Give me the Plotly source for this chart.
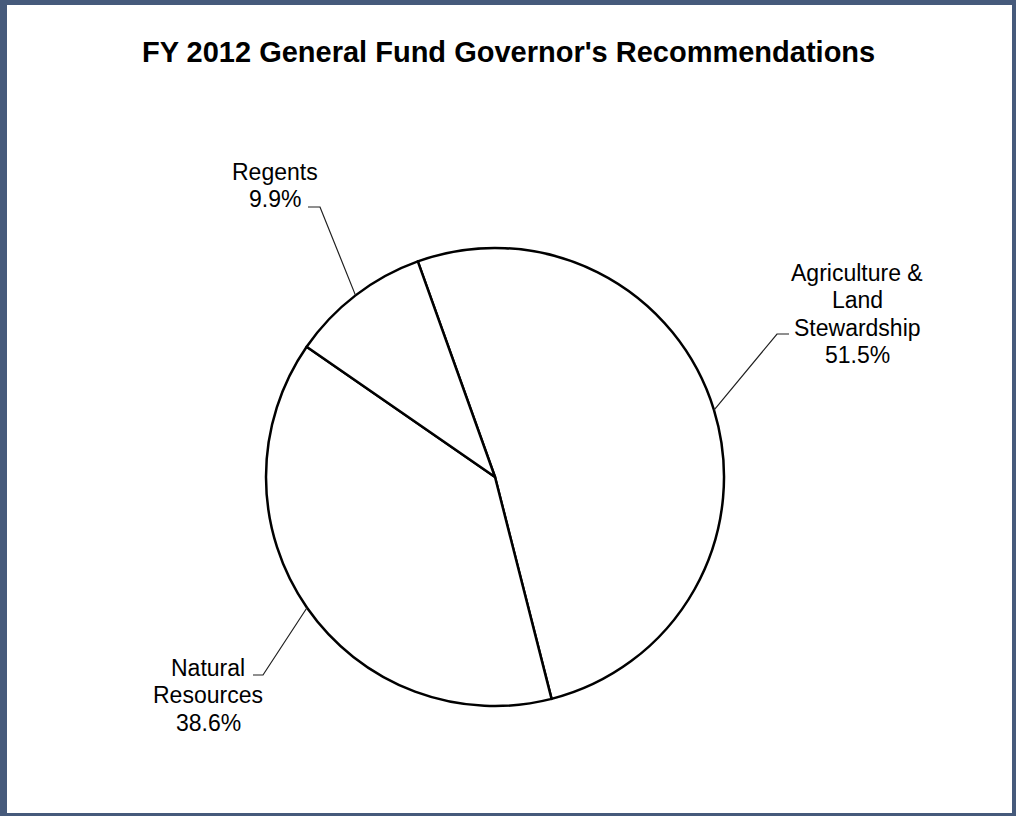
import math
import plotly.graph_objects as go

# Budget shares, percent of the FY 2012 general fund recommendation
categories = ["Agriculture & Land Stewardship", "Natural Resources", "Regents"]
label_lines = [["Agriculture &", "Land", "Stewardship"], ["Natural", "Resources"], ["Regents"]]
shares = [51.5, 38.6, 9.9]

W, H = 1016, 816
ROTATION = -19.7          # start angle of the first slice (deg, clockwise from 12 o'clock)
CX, CY, R = 495, 477, 229  # pie centre / radius in page pixels
LINE_GAP = 27.3            # distance between label text lines (px)

# centre x and first-line y of each label block, and elbow of each leader line (page pixels)
label_pos = [(857, 273), (208, 668), (275, 172)]
elbows = [((777, 334), (789, 334)), ((263, 675), (253, 675)), ((320, 207), (308, 207))]


def px(x):
    return x / W


def py(y):
    return 1 - y / H


fig = go.Figure(
    go.Pie(
        labels=categories,
        values=shares,
        sort=False,
        direction="clockwise",
        rotation=ROTATION,
        textinfo="none",
        hoverinfo="label+percent",
        marker=dict(colors=["white"] * 3, line=dict(color="black", width=2.5)),
        domain=dict(x=[px(CX - R), px(CX + R)], y=[py(CY + R), py(CY - R)]),
        showlegend=False,
    )
)

shapes = []
annotations = []
total = sum(shares)
start = ROTATION
for lines, val, (lx, ly), (elb, tip) in zip(label_lines, shares, label_pos, elbows):
    sweep = val / total * 360
    mid = math.radians(start + sweep / 2)
    start += sweep
    ax = CX + R * math.sin(mid)
    ay = CY - R * math.cos(mid)
    shapes.append(dict(type="path", xref="paper", yref="paper",
                       path=f"M {px(ax)},{py(ay)} L {px(elb[0])},{py(elb[1])} L {px(tip[0])},{py(tip[1])}",
                       line=dict(color="#202020", width=1.2)))
    for k, line in enumerate(lines + [f"{val:.1f}%"]):
        annotations.append(dict(x=px(lx), y=py(ly + k * LINE_GAP), xref="paper", yref="paper",
                                text=line, showarrow=False, xanchor="center", yanchor="middle",
                                font=dict(family="Liberation Sans, Arial", size=23, color="black")))

annotations.append(dict(x=px(508), y=py(52), xref="paper", yref="paper",
                        text="<b>FY 2012 General Fund Governor's Recommendations</b>",
                        showarrow=False, xanchor="center", yanchor="middle",
                        font=dict(family="Liberation Sans, Arial", size=29, color="black")))

# slate frame around the page
frame = "#465A7B"
for x0, y0, x1, y1 in [(0, 0, 7, H), (0, 0, W, 5), (W - 4, 0, W, H), (0, H - 3, W, H)]:
    shapes.append(dict(type="rect", xref="paper", yref="paper",
                       x0=px(x0), x1=px(x1), y0=py(y1), y1=py(y0),
                       fillcolor=frame, line=dict(width=0), layer="above"))

fig.update_layout(
    width=W, height=H,
    margin=dict(l=0, r=0, t=0, b=0),
    paper_bgcolor="white", plot_bgcolor="white",
    shapes=shapes, annotations=annotations,
)

fig.write_html("out.html")
